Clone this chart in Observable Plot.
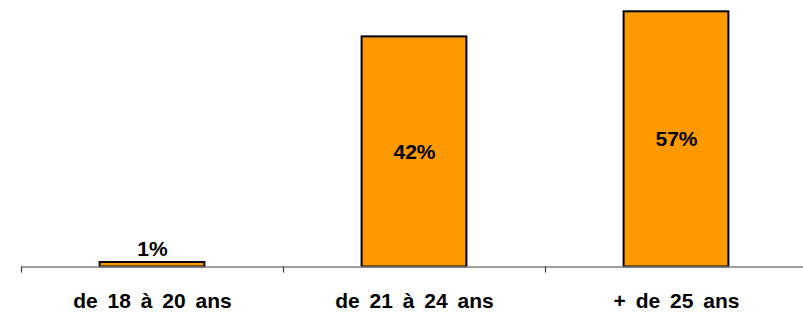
<!DOCTYPE html>
<html>
<head>
<meta charset="utf-8">
<script src="https://cdn.jsdelivr.net/npm/d3@7"></script>
<script src="https://cdn.jsdelivr.net/npm/@observablehq/plot@0.6"></script>
<style>
  html, body { margin: 0; padding: 0; background: #fff; overflow: hidden; }
  #chart svg { display: block; }
</style>
</head>
<body>
<div id="chart"></div>
<script>
// Categories (age groups)
const categories = ["de 18 à 20 ans", "de 21 à 24 ans", "+ de 25 ans"];
// Bar lengths as drawn in the picture (percentage units)
const barValues = [1, 51.4, 57];
// Value labels as printed on the picture
const valueLabels = ["1%", "42%", "57%"];

const data = categories.map((c, i) => ({ i, category: c, value: barValues[i], label: valueLabels[i] }));

const font = "'Liberation Sans', Arial, Helvetica, sans-serif";

const chart = Plot.plot({
  width: 803,
  height: 312,
  marginLeft: 21,
  marginRight: 0,
  marginTop: 11,
  marginBottom: 45.5,
  style: { fontFamily: font, background: "#fff" },
  x: { type: "linear", domain: [-0.5, 2.5], range: [21, 807], label: null },
  y: { domain: [0, 57], range: [266.5, 11.3], axis: null, label: null },
  marks: [
    Plot.rectY(data, {
      x1: d => d.i - 0.2,
      x2: d => d.i + 0.2,
      y1: 0,
      y2: "value",
      fill: "#FF9900",
      stroke: "#000",
      strokeWidth: 2
    }),
    Plot.ruleY([0], { stroke: "#7f7f7f", strokeWidth: 1.5 }),
    // tick marks at band boundaries
    Plot.axisX({
      ticks: [-0.5, 0.5, 1.5, 2.5],
      tickSize: 6,
      tickFormat: () => "",
      label: null,
      stroke: "#404040",
      strokeWidth: 1.2
    }),
    // category labels
    Plot.axisX({
      ticks: [0, 1, 2],
      tickSize: 0,
      tickPadding: 26,
      tickFormat: i => categories[i],
      label: null,
      fontSize: 21,
      fontWeight: "bold",
      fill: "#000"
    }),
    // value labels: above small bars, centred inside tall bars
    Plot.text(data.filter(d => d.value < 5), {
      x: "i",
      y: "value",
      text: "label",
      lineAnchor: "bottom",
      dy: -7,
      fontSize: 21,
      fontWeight: "bold",
      fill: "#000"
    }),
    Plot.text(data.filter(d => d.value >= 5), {
      x: "i",
      y: d => d.value / 2,
      text: "label",
      lineAnchor: "middle",
      fontSize: 21,
      fontWeight: "bold",
      fill: "#000"
    })
  ]
});

chart.querySelectorAll("text").forEach(t => t.style.wordSpacing = "4px");
document.getElementById("chart").appendChild(chart);
</script>
</body>
</html>
